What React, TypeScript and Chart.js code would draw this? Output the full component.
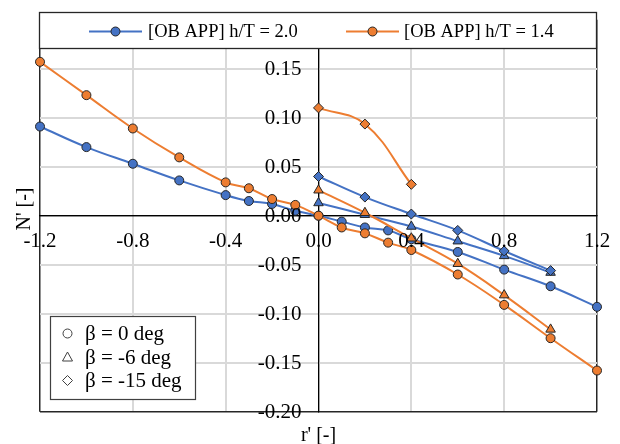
import React, { useEffect, useRef } from 'react';
import { Chart, registerables } from 'chart.js';
Chart.register(...registerables);

const BLUE = '#4472C4';
const ORANGE = '#ED7D31';
const FONT = "'Liberation Serif', 'Times New Roman', serif";

const legendTop = ['[OB APP] h/T = 2.0', '[OB APP] h/T = 1.4'];
const legendBottom = ['β = 0 deg', 'β = -6 deg', 'β = -15 deg'];
const xTitle = "r' [-]";
const yTitle = "N' [-]";

// r' values
const rFull = [-1.2, -1.0, -0.8, -0.6, -0.4, -0.3, -0.2, -0.1, 0, 0.1, 0.2, 0.3, 0.4, 0.6, 0.8, 1.0, 1.2];
const rBeta6 = [0, 0.2, 0.4, 0.6, 0.8, 1.0];
const rBeta15Blue = [0, 0.2, 0.4, 0.6, 0.8, 1.0];
const rBeta15Orange = [0, 0.2, 0.4];

// h/T = 2.0 (blue)
const blueBeta0 = [0.091, 0.070, 0.053, 0.036, 0.021, 0.015, 0.012, 0.005, 0, -0.006, -0.012, -0.015, -0.024, -0.037, -0.055, -0.072, -0.093];
const blueBeta6 = [0.013, 0.001, -0.011, -0.026, -0.041, -0.058];
const blueBeta15 = [0.040, 0.019, 0.0017, -0.015, -0.036, -0.056];

// h/T = 1.4 (orange)
const orangeBeta0 = [0.157, 0.123, 0.089, 0.0595, 0.034, 0.028, 0.017, 0.011, 0, -0.012, -0.018, -0.0275, -0.035, -0.060, -0.091, -0.125, -0.158];
const orangeBeta6 = [0.026, 0.003, -0.023, -0.049, -0.081, -0.116];
const orangeBeta15 = [0.110, 0.0935, 0.032];

const zip = (xs: number[], ys: number[]) => xs.map((x, i) => ({ x, y: ys[i] }));

function series(data: { x: number; y: number }[], color: string, style: string, radius: number) {
  return {
    data,
    showLine: true,
    borderColor: color,
    borderWidth: 2,
    tension: 0.4,
    backgroundColor: color,
    pointBackgroundColor: color,
    pointBorderColor: '#262626',
    pointBorderWidth: 1,
    pointStyle: style,
    pointRadius: radius,
    pointHoverRadius: radius,
    clip: false as const,
  };
}

const TICK_FONT = `21px ${FONT}`;

const overlayPlugin = {
  id: 'overlay',
  afterDatasetsDraw(chart: any) {
    const ctx = chart.ctx as CanvasRenderingContext2D;
    const xs = chart.scales.x;
    const ys = chart.scales.y;
    const x0 = xs.getPixelForValue(0);
    const y0 = ys.getPixelForValue(0);
    ctx.save();
    ctx.fillStyle = '#000';
    ctx.font = TICK_FONT;
    // y tick labels, to the left of the vertical axis
    ctx.textAlign = 'right';
    ctx.textBaseline = 'middle';
    for (const t of ys.ticks) {
      if (Math.abs(t.value - 0.2) < 1e-9) continue;
      ctx.fillText(Number(t.value).toFixed(2), x0 - 17, ys.getPixelForValue(t.value) + 1);
    }
    // x tick labels, below the horizontal axis
    ctx.textAlign = 'center';
    for (const t of xs.ticks) {
      ctx.fillText(Number(t.value).toFixed(1), xs.getPixelForValue(t.value), y0 + 26);
    }
    ctx.restore();
  },
  afterDraw(chart: any) {
    const ctx = chart.ctx as CanvasRenderingContext2D;
    const area = chart.chartArea;
    ctx.save();
    // top legend box
    const lx0 = area.left - 0.5, lx1 = area.right - 0.5, ly0 = 12.5, ly1 = 48.5;
    ctx.fillStyle = '#ffffff';
    ctx.fillRect(lx0, ly0, lx1 - lx0, ly1 - ly0);
    ctx.strokeStyle = '#262626';
    ctx.lineWidth = 1.3;
    ctx.strokeRect(lx0, ly0, lx1 - lx0, ly1 - ly0);
    const items = [
      { color: BLUE, x0: 89, x1: 142, text: legendTop[0], tx: 148 },
      { color: ORANGE, x0: 346, x1: 399, text: legendTop[1], tx: 404 },
    ];
    const cy = 31.5;
    ctx.font = `18.5px ${FONT}`;
    ctx.textBaseline = 'middle';
    ctx.textAlign = 'left';
    for (const it of items) {
      ctx.strokeStyle = it.color;
      ctx.lineWidth = 2;
      ctx.beginPath();
      ctx.moveTo(it.x0, cy);
      ctx.lineTo(it.x1, cy);
      ctx.stroke();
      ctx.beginPath();
      ctx.arc((it.x0 + it.x1) / 2, cy, 4.5, 0, Math.PI * 2);
      ctx.fillStyle = it.color;
      ctx.fill();
      ctx.strokeStyle = '#262626';
      ctx.lineWidth = 1;
      ctx.stroke();
      ctx.fillStyle = '#000';
      ctx.fillText(it.text, it.tx, cy + 1);
    }
    // bottom-left legend box
    const bx0 = 50.5, by0 = 316.5, bx1 = 195.5, by1 = 399.5;
    ctx.fillStyle = '#ffffff';
    ctx.fillRect(bx0, by0, bx1 - bx0, by1 - by0);
    ctx.strokeStyle = '#404040';
    ctx.lineWidth = 1.2;
    ctx.strokeRect(bx0, by0, bx1 - bx0, by1 - by0);
    const rows = [333.5, 357.5, 380.5];
    const mx = 67.5;
    ctx.strokeStyle = '#404040';
    ctx.lineWidth = 1;
    ctx.beginPath();
    ctx.arc(mx, rows[0], 4.5, 0, Math.PI * 2);
    ctx.stroke();
    ctx.beginPath();
    ctx.moveTo(mx, rows[1] - 5.5);
    ctx.lineTo(mx + 5, rows[1] + 3.5);
    ctx.lineTo(mx - 5, rows[1] + 3.5);
    ctx.closePath();
    ctx.stroke();
    ctx.beginPath();
    ctx.moveTo(mx, rows[2] - 5);
    ctx.lineTo(mx + 5, rows[2]);
    ctx.lineTo(mx, rows[2] + 5);
    ctx.lineTo(mx - 5, rows[2]);
    ctx.closePath();
    ctx.stroke();
    ctx.fillStyle = '#000';
    ctx.font = `21px ${FONT}`;
    ctx.textAlign = 'left';
    ctx.textBaseline = 'middle';
    legendBottom.forEach((t, i) => ctx.fillText(t, 85, rows[i] + 1));
    // axis titles
    ctx.font = `20px ${FONT}`;
    ctx.textAlign = 'center';
    ctx.textBaseline = 'middle';
    ctx.fillText(xTitle, chart.scales.x.getPixelForValue(0), 436);
    ctx.save();
    ctx.translate(25, 209);
    ctx.rotate(-Math.PI / 2);
    ctx.fillText(yTitle, 0, 0);
    ctx.restore();
    ctx.restore();
  },
};

const zeroPad = (s: any) => {
  s.paddingTop = 0;
  s.paddingBottom = 0;
  s.paddingLeft = 0;
  s.paddingRight = 0;
};

export default function App() {
  const ref = useRef<HTMLCanvasElement>(null);
  useEffect(() => {
    document.body.style.margin = '0';
    const canvas = ref.current!;
    const isEdge = (v: number, lo: number, hi: number) => Math.abs(v - lo) < 1e-9 || Math.abs(v - hi) < 1e-9;
    const gridColor = (lo: number, hi: number) => (c: any) => {
      const v = c.tick ? c.tick.value : 1;
      if (Math.abs(v) < 1e-9) return '#000';
      if (isEdge(v, lo, hi)) return '#262626';
      return '#d9d9d9';
    };
    const gridWidth = (lo: number, hi: number) => (c: any) => {
      const v = c.tick ? c.tick.value : 1;
      if (Math.abs(v) < 1e-9) return 1.2;
      if (isEdge(v, lo, hi)) return 1.5;
      return 2;
    };
    const chart = new Chart(canvas, {
      type: 'scatter',
      data: {
        datasets: [
          series(zip(rBeta15Orange, orangeBeta15), ORANGE, 'rectRot', 5),
          series(zip(rBeta6, orangeBeta6), ORANGE, 'triangle', 5.5),
          series(zip(rFull, orangeBeta0), ORANGE, 'circle', 4.5),
          series(zip(rBeta15Blue, blueBeta15), BLUE, 'rectRot', 5),
          series(zip(rBeta6, blueBeta6), BLUE, 'triangle', 5.5),
          series(zip(rFull, blueBeta0), BLUE, 'circle', 4.5),
        ] as any,
      },
      options: {
        animation: false,
        responsive: false,
        events: [],
        layout: { padding: { left: 40, right: 23, top: 19.7, bottom: 32.3 } },
        plugins: { legend: { display: false }, tooltip: { enabled: false } },
        scales: {
          x: {
            type: 'linear',
            position: { y: 0 } as any,
            min: -1.2,
            max: 1.2,
            afterFit: zeroPad,
            ticks: { stepSize: 0.4, autoSkip: false, display: false },
            grid: { drawTicks: false, color: gridColor(-1.2, 1.2), lineWidth: gridWidth(-1.2, 1.2) },
            border: { display: true, color: '#000', width: 1.2 },
          },
          y: {
            type: 'linear',
            position: { x: 0 } as any,
            min: -0.2,
            max: 0.2,
            afterFit: zeroPad,
            ticks: { stepSize: 0.05, autoSkip: false, display: false },
            grid: { drawTicks: false, color: gridColor(-0.2, 0.2), lineWidth: gridWidth(-0.2, 0.2) },
            border: { display: true, color: '#000', width: 1.2 },
          },
        },
      },
      plugins: [overlayPlugin],
    });
    return () => chart.destroy();
  }, []);
  return <canvas ref={ref} width={620} height={444} style={{ display: 'block' }} />;
}
